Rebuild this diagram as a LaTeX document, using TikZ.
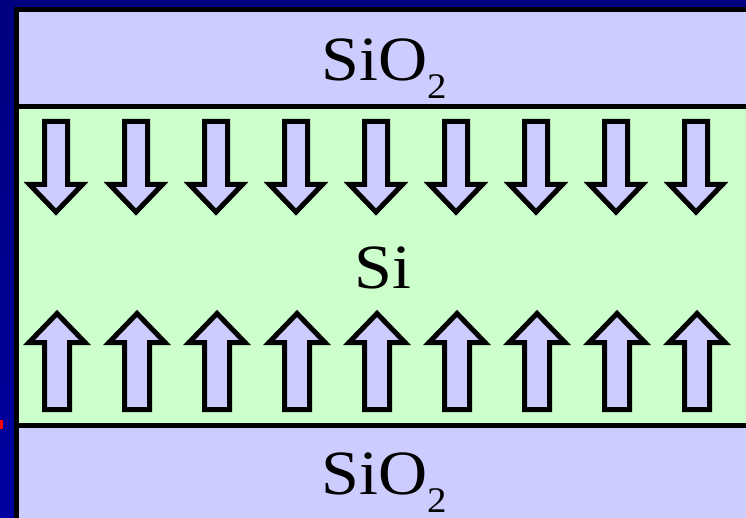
\documentclass[tikz,border=0pt]{standalone}
\usepackage{fontspec}
\setmainfont{Liberation Serif}
\usepackage{graphicx}
\definecolor{frameblue}{RGB}{0,0,128}
\definecolor{sideblue}{RGB}{0,0,160}
\definecolor{oxide}{RGB}{204,204,255}
\definecolor{silicon}{RGB}{204,255,204}
\tikzset{
  layer/.style={draw=black, line width=5pt},
  fieldarrow/.style={draw=black, fill=oxide, line width=5pt, miter limit=10, line join=miter},
  label/.style={inner sep=0pt, anchor=base},
}
\newcommand{\bigtext}{\fontsize{63}{70}\selectfont}
\newcommand{\subtwo}{\raisebox{-18pt}{\fontsize{36}{40}\selectfont 2}}
\begin{document}
\begin{tikzpicture}[x=1pt,y=-1pt]
  % canvas and slide background
  \useasboundingbox (0,0) rectangle (746,518);
  \fill[frameblue] (0,0) rectangle (746,518);
  \shade[top color=frameblue, bottom color=sideblue] (0,12) rectangle (15,518);
  \fill[red] (0,420) rectangle (3,429);

  % layer stack: oxide / silicon / oxide
  \begin{scope}
    \clip (0,0) rectangle (746,518);
    \filldraw[layer, fill=oxide]   (16.5,9.5)   rectangle (770,106.5);
    \filldraw[layer, fill=silicon] (16.5,106.5) rectangle (770,425.5);
    \filldraw[layer, fill=oxide]   (16.5,425.5) rectangle (770,540);
  \end{scope}

  % downward arrows below the top oxide
  \foreach \cx in {56,136,...,696} {
    \filldraw[fieldarrow]
      (\cx-11.5,121.5) -- (\cx+11.5,121.5) -- (\cx+11.5,184.5)
      -- (\cx+26.5,184.5) -- (\cx,212) -- (\cx-26.5,184.5)
      -- (\cx-11.5,184.5) -- cycle;
  }
  % upward arrows above the bottom oxide
  \foreach \cx in {57,137,...,697} {
    \filldraw[fieldarrow]
      (\cx-12.5,409.5) -- (\cx+12.5,409.5) -- (\cx+12.5,342.5)
      -- (\cx+28,342.5) -- (\cx,313.5) -- (\cx-28,342.5)
      -- (\cx-12.5,342.5) -- cycle;
  }

  % labels
  \node[label] (topox) at (384,81)  {\scalebox{1.08}[1]{\bigtext SiO\subtwo}};
  \node[label] (si)    at (383,289) {\scalebox{1.08}[1]{\bigtext Si}};
  \node[label] (botox) at (384,494) {\scalebox{1.08}[1]{\bigtext SiO\subtwo}};
\end{tikzpicture}
\end{document}
